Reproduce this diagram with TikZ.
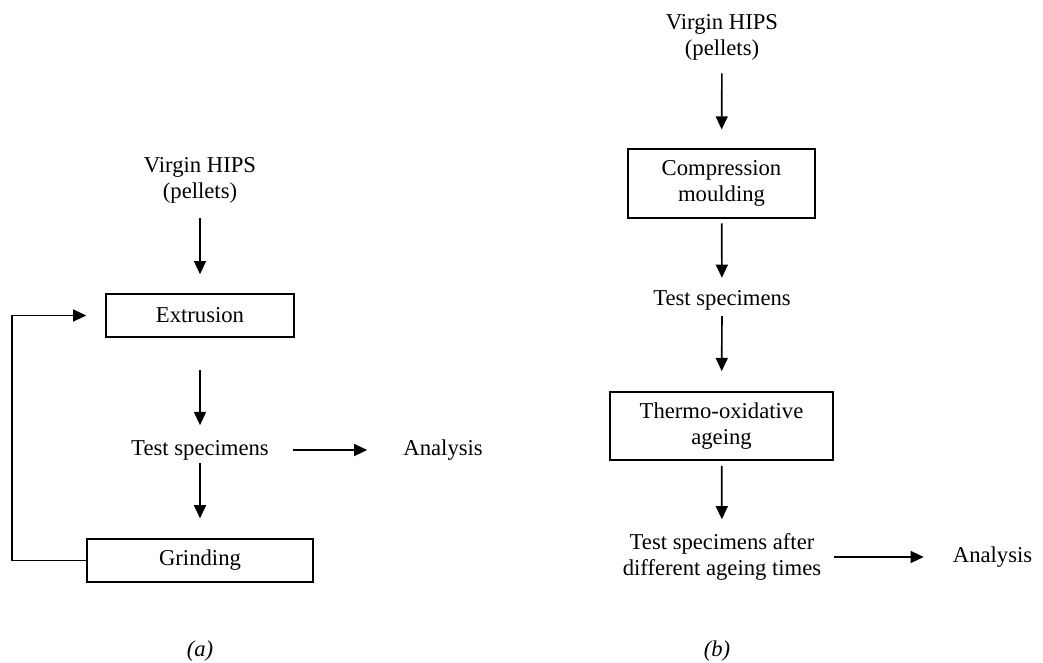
\documentclass[tikz,border=0pt]{standalone}
\usepackage{fontspec}
\setmainfont{Liberation Serif}
\usetikzlibrary{arrows.meta,positioning}

\begin{document}
\begin{tikzpicture}[
	    x=0.02cm, y=-0.02cm,
	    onlytext/.style={align=center, inner sep=0pt, font=\fontsize{12.9}{14.8}\selectfont},
	    box/.style={rectangle, draw, line width=0.9pt, align=center, inner sep=0pt, font=\fontsize{12.9}{14.8}\selectfont},
	    smallbox/.style={box, minimum height=0.86cm},
	    tallbox/.style={box, minimum height=1.37cm},
	    sublabel/.style={inner sep=0pt, font=\fontsize{12.9}{14.8}\selectfont\itshape},
	    normalline/.style={-{Triangle[length=7.5pt, width=6.8pt]}, line width=0.95pt},
	]
	\useasboundingbox (0,0) rectangle (1043,662);

	% ------------ (a) recycling
	\node[onlytext] (hipsa) at (200,180) {Virgin HIPS\\(pellets)};
	\node[smallbox, minimum width=3.76cm] (extrusion) at (200,315.5) {Extrusion};
	\node[onlytext] (testa) at (200,450) {Test specimens};
	\node[onlytext, right=2.68cm of testa] (analysisa) {Analysis};
	\node[smallbox, minimum width=4.52cm] (grinding) at (200,560.5) {Grinding};
	\coordinate (loopleft) at (12,440);

	\draw [normalline, shorten <=8.5pt, shorten >=10.8pt] (hipsa) -- (extrusion);
	\draw [normalline, shorten <=18.1pt, shorten >=8.3pt] (extrusion) -- (testa);
	\draw [normalline, shorten <=1.7pt, shorten >=11.3pt] (testa) -- (grinding);
	\draw [normalline, shorten <=13.6pt, shorten >=20.4pt] (testa) -- (analysisa);
	\draw [normalline, shorten >=10.8pt] (grinding.west) -| (loopleft) |- (extrusion.west);

	\node[sublabel] (labela) at (200,651) {(a)};

	% ------------ (b) ageing
	\node[onlytext] (hipsb) at (722,37) {Virgin HIPS\\(pellets)};
	\node[tallbox, minimum width=3.74cm] (compression) at (721.5,183.5) {Compression\\moulding};
	\node[onlytext] (testb) at (722,300) {Test specimens};
	\node[tallbox, minimum width=4.46cm] (thermo) at (721.5,426) {Thermo-oxidative\\ageing};
	\node[onlytext] (aged) at (722,557) {Test specimens after\\different ageing times};
	\node[onlytext, right=2.62cm of aged] (analysisb) {Analysis};

	\draw [normalline, shorten <=7.4pt, shorten >=10.8pt] (hipsb) -- (compression);
	\draw [normalline, shorten <=2.8pt, shorten >=6.8pt] (compression) -- (testb);
	\draw [normalline, shorten <=3.4pt, shorten >=11.3pt] (testb) -- (thermo);
	\draw [normalline, shorten <=2.8pt, shorten >=7.9pt] (thermo) -- (aged);
	\draw [normalline, shorten <=6.8pt, shorten >=16.4pt] (aged) -- (analysisb);

	\node[sublabel] (labelb) at (717,651) {(b)};

\end{tikzpicture}
\end{document}
